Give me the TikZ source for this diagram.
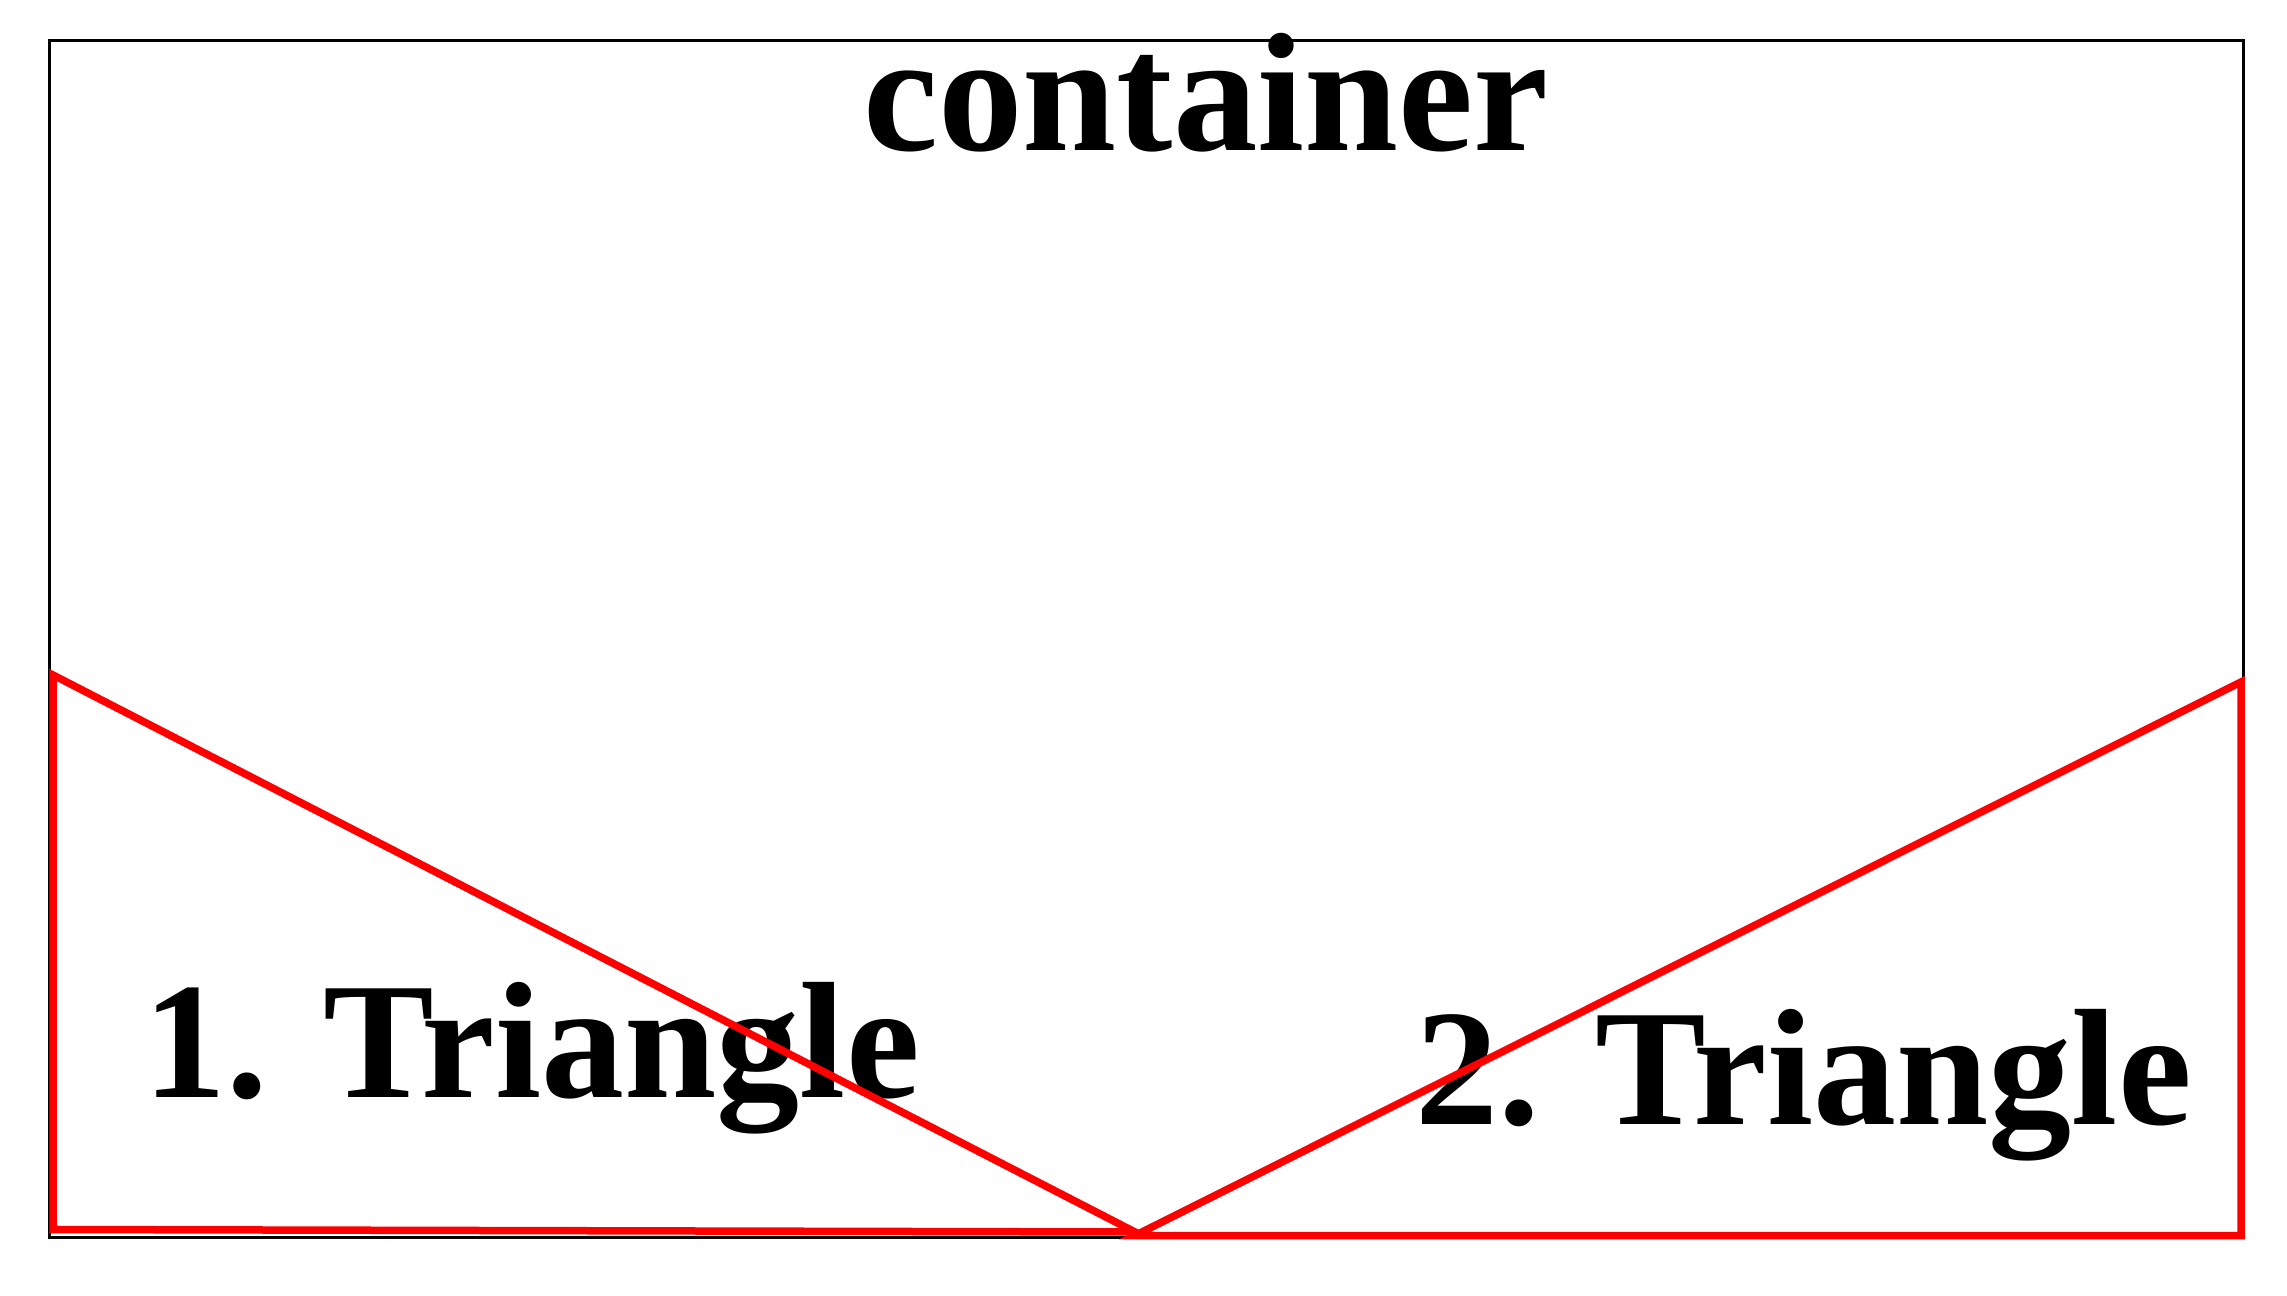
\documentclass[tikz,border=0pt]{standalone}
\usepackage{fontspec}
\setmainfont{Liberation Serif}
\begin{document}
\begin{tikzpicture}[x=0.5pt,y=-0.5pt,
  box/.style={draw=black,line width=1.5pt},
  tri/.style={draw=red,line width=3.75pt,line join=miter},
  lbl/.style={font=\bfseries\fontsize{84.5}{90}\selectfont,inner sep=0pt,anchor=base},
  tlbl/.style={font=\bfseries\fontsize{83}{90}\selectfont,inner sep=0pt,anchor=base}]
\useasboundingbox (0,0) rectangle (2287,1296);
\draw[box] (49,40) rectangle (2243,1237);
\node[lbl] (title) at (1206,150) {container};
\node[tlbl] (t1label) at (531.5,1097) {1. Triangle};
\node[tlbl] (t2label) at (1803.5,1124.5) {2. Triangle};
\draw[tri] (53,675) -- (53,1229.5) -- (1135,1232) -- cycle;
\draw[tri] (2241,682) -- (2241,1235.5) -- (1135,1235.5) -- cycle;
\end{tikzpicture}
\end{document}
